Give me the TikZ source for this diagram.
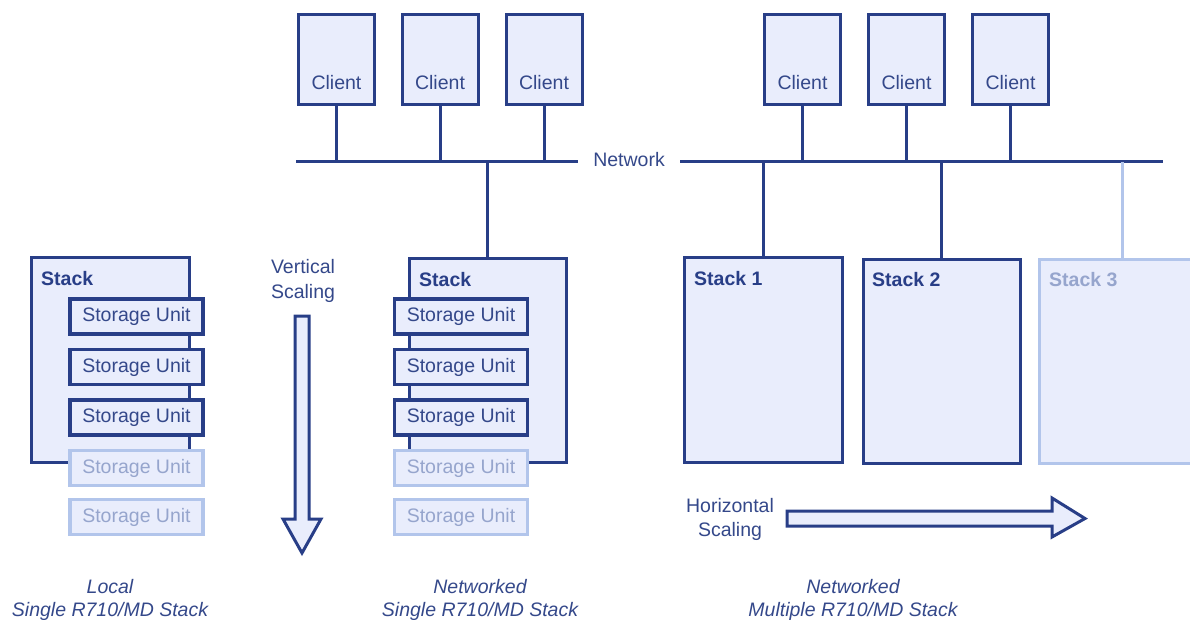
\documentclass[tikz,border=0pt]{standalone}
\usepackage{fontspec}
\setmainfont{Liberation Sans}
\begin{document}
\definecolor{navy}{RGB}{40,62,135}
\definecolor{fillblue}{RGB}{233,237,252}
\definecolor{paleline}{RGB}{178,197,235}
\definecolor{paletext}{RGB}{150,165,205}
\definecolor{txt}{RGB}{52,72,138}
\begin{tikzpicture}[x=1pt,y=-1pt,
  every node/.style={font=\fontsize{19.5}{24}\selectfont, text=txt, inner sep=0pt},
  box/.style={draw=navy, line width=3pt, fill=fillblue},
  stackbox/.style={box, minimum width=157pt, minimum height=204pt},
  unitbox/.style={box, line width=3.5pt, minimum width=133pt, minimum height=35pt},
  clientbox/.style={box, minimum width=76pt, minimum height=90pt},
  ghost/.style={draw=paleline, text=paletext},
  wire/.style={draw=navy, line width=3pt},
  palewire/.style={draw=paleline, line width=3pt},
  stacklabel/.style={anchor=west, font=\fontsize{19.5}{24}\selectfont\bfseries, text=navy},
  caption/.style={align=center, font=\fontsize{19.5}{23}\selectfont\itshape},
  bigarrow/.style={draw=navy, fill=fillblue, line width=3pt, line join=miter}
]
\useasboundingbox (0,0) rectangle (1190,620);

% ---------- network buses ----------
\coordinate (busLa) at (296,162);
\coordinate (busLb) at (578,162);
\coordinate (busRa) at (680,162);
\coordinate (busRb) at (1163,162);
\draw[wire] (busLa) -- (busLb);
\draw[wire] (busRa) -- (busRb);
\node (net) at (629,160) {Network};

% ---------- clients ----------
\foreach \n/\x in {c1/336.5, c2/440, c3/544, c4/802.5, c5/906.5, c6/1010.5} {
  \node[clientbox] (\n) at (\x,60) {};
  \node (\n t) at ([yshift=-23pt]\n.center) {Client};
}
\foreach \n in {c1,c2,c3} \draw[wire] (\n.south) -- (\n.south |- busLa);
\foreach \n in {c4,c5,c6} \draw[wire] (\n.south) -- (\n.south |- busRa);

% ---------- local single stack ----------
\node[stackbox, minimum width=158pt, minimum height=205pt] (stL) at (110,359.5) {};
\node[stacklabel] (stLt) at (41,278.5) {Stack};
\foreach \i/\y in {1/316.5, 2/367, 3/417.5}
  \node[unitbox] (uL\i) at (136.5,\y) {Storage Unit};
\foreach \i/\y in {4/468, 5/517}
  \node[unitbox, ghost] (uL\i) at (136.5,\y) {Storage Unit};

% ---------- vertical scaling arrow ----------
\node[align=center, font=\fontsize{19.5}{25}\selectfont] (vtext) at (303,281) {Vertical\\Scaling};
\draw[bigarrow] (295,316) -- (309,316) -- (309,519) -- (321,519) -- (302,553)
  -- (283,519) -- (295,519) -- cycle;

% ---------- networked single stack ----------
\node[stackbox] (stM) at (487.5,360) {};
\draw[wire] (stM.north) -- (stM.north |- busLa);
\node[stacklabel] (stMt) at (419,279.5) {Stack};
\foreach \i/\y in {1/316.5, 2/367, 3/417.5}
  \node[unitbox] (uM\i) at (461,\y) {Storage Unit};
\foreach \i/\y in {4/468, 5/517}
  \node[unitbox, ghost] (uM\i) at (461,\y) {Storage Unit};

% ---------- networked multiple stacks ----------
\node[stackbox, minimum width=158pt, minimum height=205pt] (s1) at (763,359.5) {};
\node[stackbox] (s2) at (941.5,361) {};
\node[stackbox, ghost, minimum width=166pt] (s3) at (1122,361) {};
\draw[wire] (s1.north) -- (s1.north |- busRa);
\draw[wire] (s2.north) -- (s2.north |- busRa);
\draw[palewire] (s3.north) -- (s3.north |- busRa);
\node[stacklabel] (s1t) at (694,278.5) {Stack 1};
\node[stacklabel] (s2t) at (872,279.5) {Stack 2};
\node[stacklabel, text=paletext] (s3t) at (1049,279.5) {Stack 3};

% ---------- horizontal scaling arrow ----------
\node[align=center, font=\fontsize{19.5}{24}\selectfont] (htext) at (730,519) {Horizontal\\Scaling};
\draw[bigarrow] (787,511) -- (1052,511) -- (1052,498) -- (1085,518.5) -- (1052,537)
  -- (1052,526) -- (787,526) -- cycle;

% ---------- captions ----------
\node[caption] (capL) at (110,600) {Local\\Single R710/MD Stack};
\node[caption] (capM) at (480,600) {Networked\\Single R710/MD Stack};
\node[caption] (capR) at (853,600) {Networked\\Multiple R710/MD Stack};
\end{tikzpicture}
\end{document}
